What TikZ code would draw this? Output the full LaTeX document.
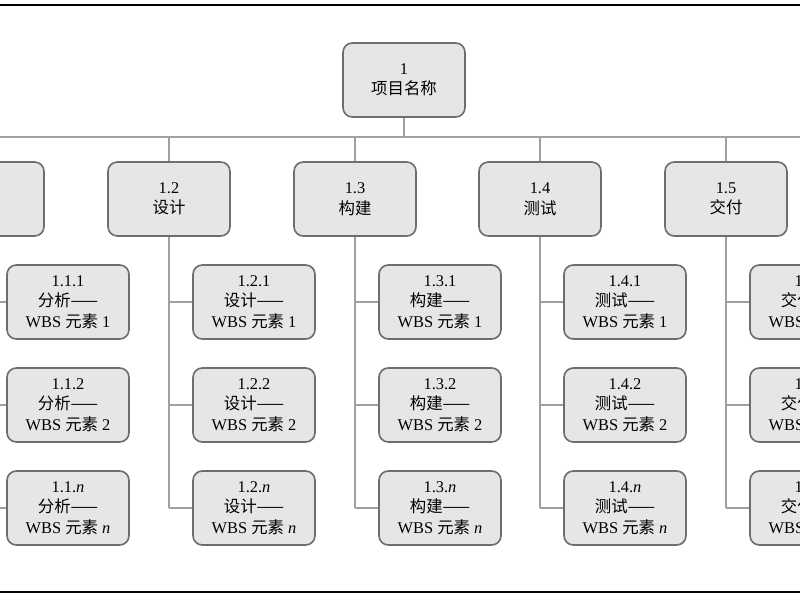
\documentclass[tikz,border=0pt]{standalone}
\usepackage{fontspec}
\setmainfont{Liberation Serif}
\newfontfamily\cjk{Noto Sans CJK SC}
\usetikzlibrary{positioning}
\definecolor{boxfill}{HTML}{E6E6E6}
\definecolor{boxline}{HTML}{6E6E6E}
\definecolor{wire}{HTML}{A0A0A0}
\tikzset{
  wbs/.style={rectangle, rounded corners=8pt, draw=boxline, line width=1.4pt, fill=boxfill,
    minimum width=3.66cm, minimum height=2.22cm, align=center, font=\fontsize{14}{17.5}\selectfont},
  link/.style={draw=wire, line width=2.2pt}
}
\begin{document}
\begin{tikzpicture}[x=0.03cm, y=-0.03cm]
    % frame of the page
    \useasboundingbox (0,0) rectangle (800,600);
    \clip (0,0) rectangle (800,600);
    \draw [line width=1.8pt] (-10,5) -- (810,5);
    \draw [line width=1.8pt] (-10,592) -- (810,592);

    % root
    \node (root) at (404,80) [wbs] {1\\{\cjk 项目名称}};
    \coordinate (bus) at (404,137);
    \draw [link] (root) -- (bus);
    \draw [link] (-120,137) -- (900,137);

    % second level with their work packages
    \foreach \k/\name/\x in {1/分析/-17, 2/设计/169, 3/构建/355, 4/测试/540, 5/交付/726} {
        \node (l\k) at (\x,199) [wbs] {1.\k\\{\cjk \name}};
        \coordinate (top\k) at (\x,137);
        \draw [link] (top\k) -- (l\k);
        \foreach \j/\lab/\y in {1/1/302, 2/2/405, 3/\textit{n}/508} {
            \node (c\k\j) at (\x+85,\y) [wbs] {1.\k.\lab\\{\cjk \name——}\\WBS {\cjk 元素} \lab};
            \coordinate (s\k\j) at (\x,\y);
            \draw [link] (s\k\j) -- (c\k\j);
        }
        \draw [link] (l\k) -- (s\k3);
    }
\end{tikzpicture}
\end{document}
